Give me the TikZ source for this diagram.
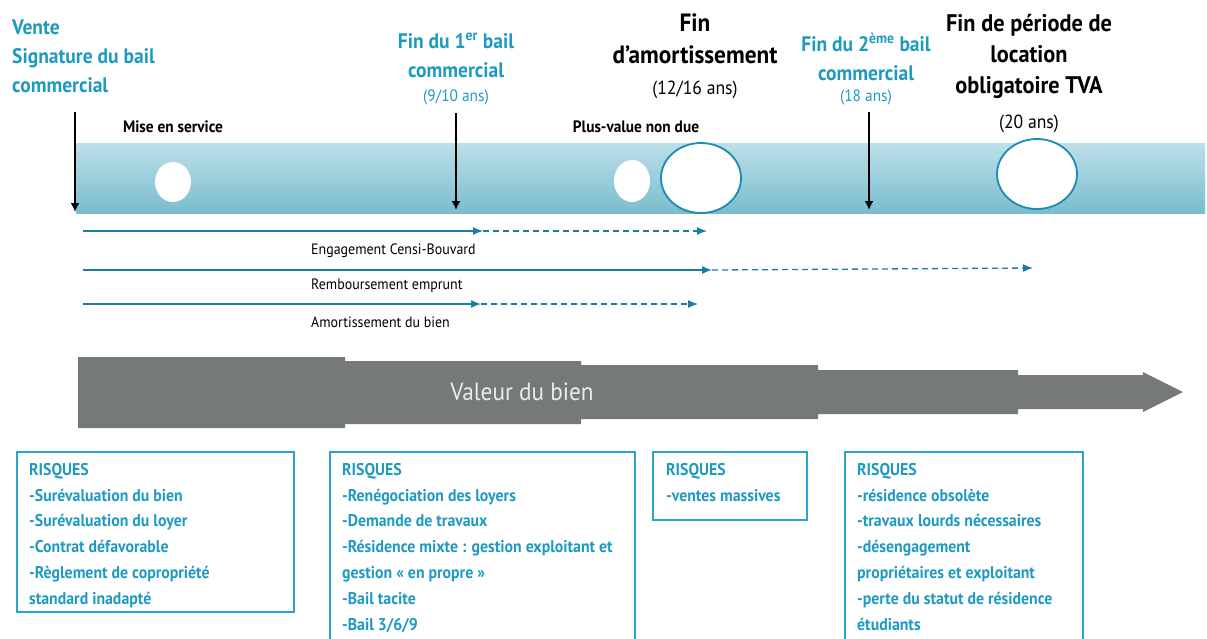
\documentclass[tikz,border=0pt]{standalone}
\usepackage{fontspec}
\setmainfont{PT Sans}[FakeStretch=0.93]
\usetikzlibrary{arrows.meta,positioning}

\definecolor{bleutexte}{HTML}{1E9AC2}
\definecolor{bleufleche}{HTML}{1A7DA8}
\definecolor{bleucadre}{HTML}{2AA2CB}
\definecolor{bleurond}{HTML}{1A8DB3}
\definecolor{bandehaut}{HTML}{BDE0E9}
\definecolor{bandebas}{HTML}{79BCCD}
\definecolor{grisvaleur}{HTML}{76797A}

\tikzset{
  etape/.style={inner sep=0pt, align=center, text=bleutexte, font=\bfseries\fontsize{21}{29}\selectfont},
  echeance/.style={inner sep=0pt, align=center, font=\bfseries\fontsize{25}{32}\selectfont},
  duree/.style={inner sep=0pt, font=\fontsize{16.5}{18}\selectfont},
  repere/.style={inner sep=0pt, font=\bfseries\fontsize{16.5}{18}\selectfont},
  jalon/.style={line width=2.6pt, -{Latex[length=9pt,width=9pt]}},
  flux/.style={bleufleche, line width=1.3pt, -{Latex[length=10pt,width=8pt]}},
  fluxsuite/.style={flux, dash pattern=on 6pt off 4pt},
  legende/.style={inner sep=0pt, anchor=west, font=\fontsize{15}{17}\selectfont},
  risques/.style={inner sep=0pt, anchor=north west, align=left, text=bleutexte, font=\bfseries\fontsize{17}{25.8}\selectfont},
  cadre/.style={draw=bleucadre, line width=2pt}
}

\begin{document}
\begin{tikzpicture}[x=1pt,y=-1pt]
  \useasboundingbox (0,0) rectangle (1207,638);

  %%%%% frise %%%%%
  \shade[top color=bandehaut, bottom color=bandebas] (76,143) rectangle (1205,213);
  \fill[white] (173,182) ellipse [x radius=18pt, y radius=20pt];
  \fill[white] (632,181) ellipse [x radius=18pt, y radius=21pt];
  \draw[bleurond, line width=1.8pt, fill=white] (701,178) ellipse [x radius=40pt, y radius=35pt];
  \draw[bleurond, line width=1.8pt, fill=white] (1037,174) ellipse [x radius=40pt, y radius=35pt];

  %%%%% titres %%%%%
  \node (vente) [etape, align=left, anchor=north west] at (12,20) {Vente\\Signature du bail\\commercial};
  \node (fin1) [etape, anchor=north] at (456,33) {Fin du 1\textsuperscript{er} bail\\commercial};
  \node (duree1) [duree, text=bleutexte] at (456,97) {(9/10 ans)};
  \node (amort) [echeance, anchor=north] at (695,14) {Fin\\d’amortissement};
  \node (duree2) [duree, font=\fontsize{19}{21}\selectfont] at (695,90) {(12/16 ans)};
  \node (fin2) [etape, anchor=north] at (866,33) {Fin du 2\textsuperscript{ème} bail\\commercial};
  \node (duree3) [duree, text=bleutexte] at (866,97) {(18 ans)};
  \node (tva) [echeance, anchor=north, font=\bfseries\fontsize{24}{31}\selectfont] at (1029,14) {Fin de période de\\location\\obligatoire TVA};
  \node (duree4) [duree, font=\fontsize{19}{21}\selectfont] at (1029,124) {(20 ans)};
  \node (service) [repere] at (173,127) {Mise en service};
  \node (plusvalue) [repere] at (636,127) {Plus-value non due};

  \coordinate (j0) at (75,112);  \coordinate (j0b) at (75,212);
  \coordinate (j1) at (456,113); \coordinate (j1b) at (456,210);
  \coordinate (j2) at (869,112); \coordinate (j2b) at (869,210);
  \draw[jalon] (j0) -- (j0b);
  \draw[jalon] (j1) -- (j1b);
  \draw[jalon] (j2) -- (j2b);

  %%%%% durees %%%%%
  \coordinate (e0) at (83,231);  \coordinate (e1) at (483,231);  \coordinate (e2) at (707,231);
  \coordinate (r0) at (83,270);  \coordinate (r1) at (712,270);  \coordinate (r2) at (1033,268);
  \coordinate (a0) at (83,304);  \coordinate (a1) at (481,304);  \coordinate (a2) at (698,304);
  \draw[flux] (e0) -- (e1);
  \draw[fluxsuite] (e1) -- (e2);
  \draw[flux] (r0) -- (r1);
  \draw[fluxsuite] (r1) -- (r2);
  \draw[flux] (a0) -- (a1);
  \draw[fluxsuite] (a1) -- (a2);
  \node (censi) [legende] at (311,251) {Engagement Censi-Bouvard};
  \node (emprunt) [legende] at (311,286) {Remboursement emprunt};
  \node (amortbien) [legende] at (311,322) {Amortissement du bien};

  %%%%% valeur %%%%%
  \fill[grisvaleur] (78,357) -- (345,357) -- (345,361) -- (581,361) -- (581,365) -- (818,365)
    -- (818,370) -- (1018,370) -- (1018,375) -- (1143,375) -- (1143,372) -- (1183,392)
    -- (1143,412) -- (1143,409) -- (1018,409) -- (1018,414) -- (818,414) -- (818,419)
    -- (581,419) -- (581,424) -- (345,424) -- (345,428) -- (78,428) -- cycle;
  \node (valeur) [text=black!8, font=\fontsize{25}{28}\selectfont] at (522,392) {Valeur du bien};

  %%%%% risques %%%%%
  \draw[cadre] (17,452) rectangle (294,612);
  \draw[cadre] (330,452) rectangle (635,650);
  \draw[cadre] (653,452) rectangle (807,520);
  \draw[cadre] (845,452) rectangle (1083,650);
  \node (risq1) [risques] at (29,463) {RISQUES\\-Surévaluation du bien\\-Surévaluation du loyer\\-Contrat défavorable\\-Règlement de copropriété\\standard inadapté};
  \node (risq2) [risques] at (342,463) {RISQUES\\-Renégociation des loyers\\-Demande de travaux\\-Résidence mixte : gestion exploitant et\\gestion « en propre »\\-Bail tacite\\-Bail 3/6/9};
  \node (risq3) [risques] at (666,463) {RISQUES\\-ventes massives};
  \node (risq4) [risques] at (857,463) {RISQUES\\-résidence obsolète\\-travaux lourds nécessaires\\-désengagement\\propriétaires et exploitant\\-perte du statut de résidence\\étudiants};
\end{tikzpicture}
\end{document}
